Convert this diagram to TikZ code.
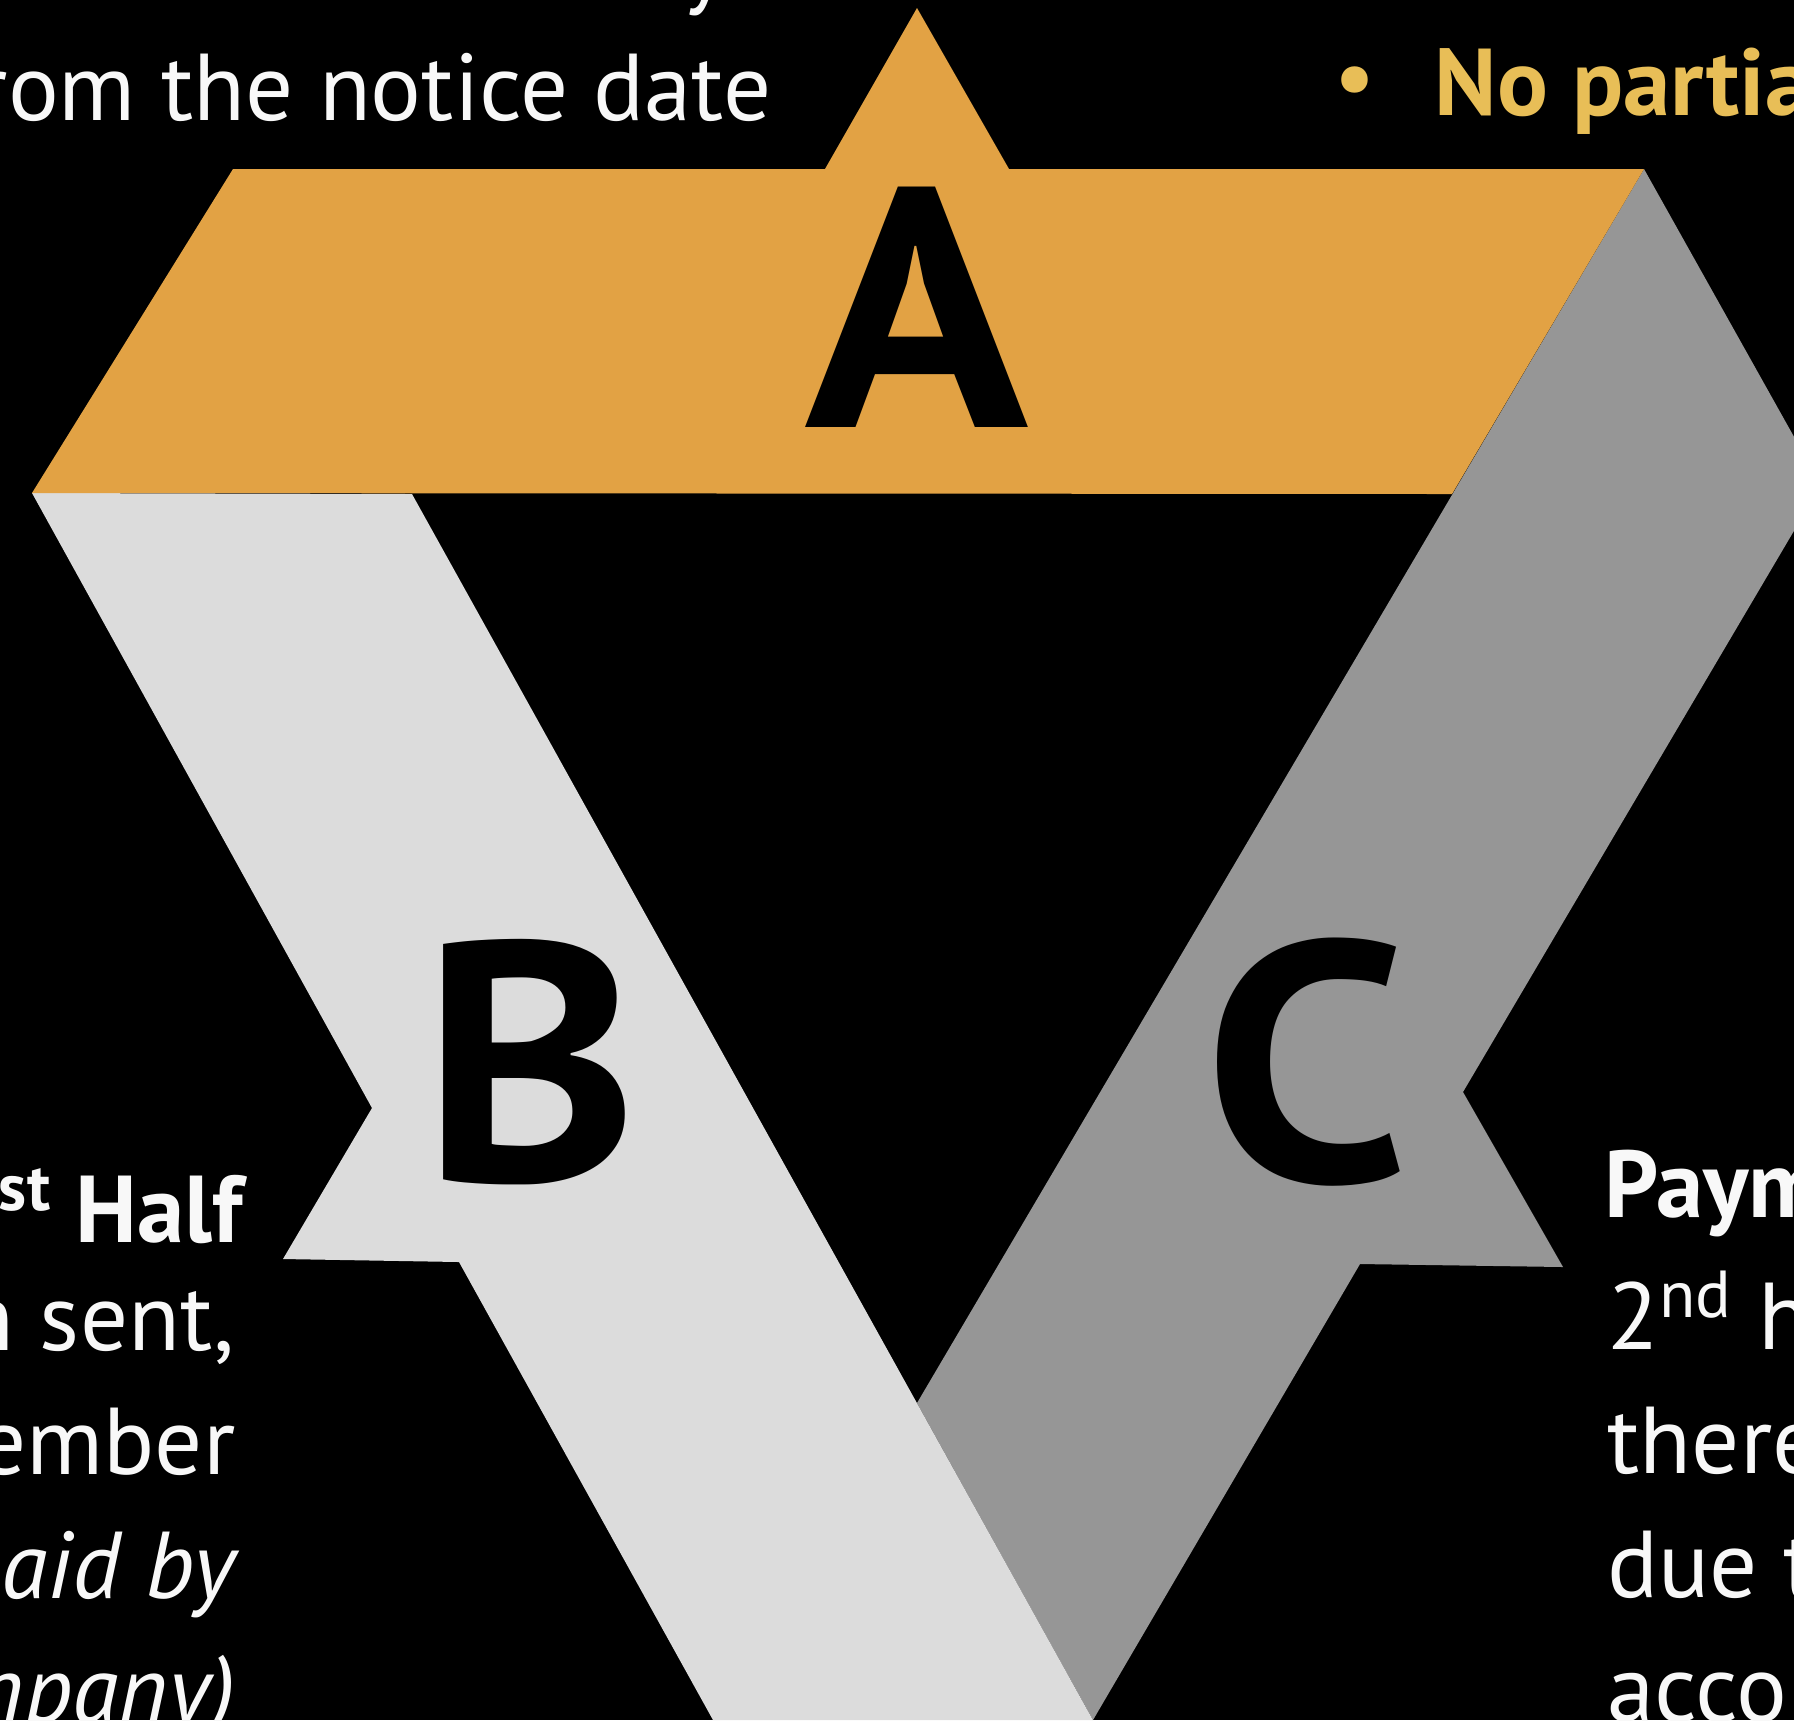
\documentclass[tikz,border=0pt]{standalone}
\usepackage{fontspec}
\setmainfont{PT Sans}
\newfontfamily\bandfont[FakeStretch=1.08]{PT Sans}
\usetikzlibrary{positioning}
\definecolor{bandA}{HTML}{E2A244}
\definecolor{bandB}{HTML}{DCDCDC}
\definecolor{bandC}{HTML}{969696}
\definecolor{notegold}{HTML}{E8BE57}
\definecolor{notewhite}{HTML}{F8F8F8}

\begin{document}
\begin{tikzpicture}[x=0.01cm, y=-0.01cm,
    letter/.style={inner sep=0pt, anchor=base, font=\bandfont\fontsize{97}{97}\selectfont\bfseries},
    note/.style={inner sep=0pt, text=notewhite, font=\fontsize{27}{35}\selectfont},
    notehead/.style={note, font=\fontsize{27}{35}\selectfont\bfseries}]
  \useasboundingbox (0,0) rectangle (1794,1720);
  \fill[black] (0,0) rectangle (1794,1720);
  \clip (0,0) rectangle (1794,1720);
  % the three bands, C lies under B
  \fill[bandC] (1644,169) -- (1821,485) -- (1463,1092) -- (1563,1267) -- (1360,1264)
    -- (1093,1720) -- (917,1403) -- cycle;
  \fill[bandB] (32,493) -- (412,494) -- (1093,1720) -- (713,1720) -- (459,1262)
    -- (283,1259) -- (372,1108) -- cycle;
  \fill[bandA] (32,493) -- (233,169) -- (825,169) -- (917,8) -- (1009,169)
    -- (1644,169) -- (1452,494) -- cycle;
  \foreach \l/\x/\y in {A/917/427, B/530/1181, C/1306/1181}
    \node[letter] (\l) at (\x,\y) {\l};
  % notes round the bands
  \node[note, anchor=base west] (ytail) at (682,-4) {y};
  \node[note, anchor=base east] (notice) at (772,120) {from the notice date};
  \node[note, text=notegold, anchor=base] (dot) at (1355,109) {\textbullet};
  \node[notehead, text=notegold, anchor=base west] (nopart) at (1434,115) {No partia};
  \node[notehead, anchor=base east] (half) at (244,1242) {\textsuperscript{st} Half};
  \foreach \t [count=\k from 0] in {{n sent,}, ember, {\itshape aid by}, {\itshape npany)}}
    \node[note, anchor=base east] (left\k) at (236,{1350+124*\k}) {\t};
  \node[notehead, anchor=base west] (paym) at (1604,1217) {Paym};
  \foreach \t [count=\k from 0] in {{2\textsuperscript{nd} h}, there, {due t}, acco}
    \node[note, anchor=base west] (right\k) at (1607,{1349+124*\k}) {\t};
\end{tikzpicture}
\end{document}
